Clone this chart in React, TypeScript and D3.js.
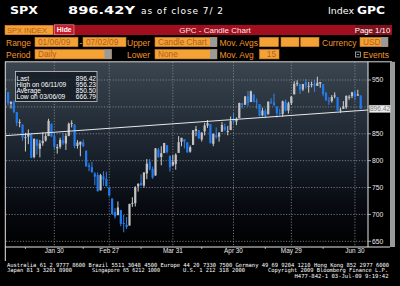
import React from 'react';
import * as d3 from 'd3';

const dates = [
  '2009-01-06','2009-01-07','2009-01-08','2009-01-09','2009-01-12','2009-01-13','2009-01-14','2009-01-15','2009-01-16','2009-01-20',
  '2009-01-21','2009-01-22','2009-01-23','2009-01-26','2009-01-27','2009-01-28','2009-01-29','2009-01-30',
  '2009-02-02','2009-02-03','2009-02-04','2009-02-05','2009-02-06','2009-02-09','2009-02-10','2009-02-11','2009-02-12','2009-02-13',
  '2009-02-17','2009-02-18','2009-02-19','2009-02-20','2009-02-23','2009-02-24','2009-02-25','2009-02-26','2009-02-27',
  '2009-03-02','2009-03-03','2009-03-04','2009-03-05','2009-03-06','2009-03-09','2009-03-10','2009-03-11','2009-03-12','2009-03-13',
  '2009-03-16','2009-03-17','2009-03-18','2009-03-19','2009-03-20','2009-03-23','2009-03-24','2009-03-25','2009-03-26','2009-03-27',
  '2009-03-30','2009-03-31',
  '2009-04-01','2009-04-02','2009-04-03','2009-04-06','2009-04-07','2009-04-08','2009-04-09','2009-04-13','2009-04-14','2009-04-15',
  '2009-04-16','2009-04-17','2009-04-20','2009-04-21','2009-04-22','2009-04-23','2009-04-24','2009-04-27','2009-04-28','2009-04-29','2009-04-30',
  '2009-05-01','2009-05-04','2009-05-05','2009-05-06','2009-05-07','2009-05-08','2009-05-11','2009-05-12','2009-05-13','2009-05-14',
  '2009-05-15','2009-05-18','2009-05-19','2009-05-20','2009-05-21','2009-05-22','2009-05-26','2009-05-27','2009-05-28','2009-05-29',
  '2009-06-01','2009-06-02','2009-06-03','2009-06-04','2009-06-05','2009-06-08','2009-06-09','2009-06-10','2009-06-11','2009-06-12',
  '2009-06-15','2009-06-16','2009-06-17','2009-06-18','2009-06-19','2009-06-22','2009-06-23','2009-06-24','2009-06-25','2009-06-26',
  '2009-06-29','2009-06-30','2009-07-01','2009-07-02'
];

const opens = [
  931.2,927.5,905.7,909.9,890.4,869.8,867.3,842.0,844.5,849.6,
  806.8,839.7,822.2,832.5,837.3,845.7,868.9,845.7,
  823.1,825.7,837.8,831.8,846.1,868.2,866.9,827.4,829.9,834.0,
  818.6,791.1,787.9,775.9,773.3,744.7,770.6,765.8,749.9,
  729.6,704.4,698.6,708.3,684.0,680.8,679.3,719.6,720.9,752.0,
  758.8,753.9,776.0,797.9,784.6,772.3,820.6,806.8,814.1,828.7,
  809.1,790.9,
  793.6,814.5,835.1,839.8,834.1,816.8,829.3,855.3,856.9,839.4,
  854.5,865.2,868.3,831.3,847.3,844.6,853.9,862.8,854.5,856.9,876.6,
  872.7,879.2,906.1,904.0,919.6,909.0,923.0,910.5,905.4,884.2,
  892.8,886.1,909.7,908.6,900.4,888.7,887.0,910.0,893.0,907.0,
  923.3,942.9,942.5,932.5,945.7,938.1,940.4,942.7,939.0,943.4,
  942.5,925.6,911.9,910.9,920.0,918.1,893.5,896.3,899.5,918.8,
  919.9,927.2,920.8,921.2
];

const highs = [
  943.9,927.5,910.0,911.9,890.4,877.0,867.3,851.6,858.1,849.6,
  841.7,839.7,838.6,852.5,850.5,877.9,868.9,851.7,
  830.8,842.6,851.9,850.6,870.8,875.0,868.1,838.2,835.5,839.4,
  818.6,796.2,797.6,778.7,777.9,775.5,780.1,779.4,751.3,
  729.6,711.7,724.1,708.3,699.1,695.3,719.6,731.9,752.6,758.3,
  774.5,778.1,803.0,803.2,788.9,823.4,823.7,826.8,833.0,828.7,
  809.1,810.5,
  813.6,845.6,842.5,839.8,834.1,828.4,856.9,864.3,856.9,852.9,
  870.4,875.6,868.3,850.1,861.8,852.9,871.8,868.8,864.5,882.1,888.7,
  880.5,907.9,907.7,920.3,929.6,930.2,923.0,915.6,905.4,898.4,
  897.0,910.0,916.4,924.6,900.4,896.7,911.8,913.8,909.5,920.0,
  947.8,949.4,942.5,942.5,951.7,946.3,946.9,949.8,956.2,946.3,
  942.5,928.0,918.4,921.9,927.1,918.1,898.7,910.9,921.4,922.0,
  928.0,930.0,931.9,921.2
];

const lows = [
  927.3,902.4,896.8,888.3,864.3,862.0,836.9,817.0,830.7,804.5,
  804.3,811.3,806.1,827.7,835.4,845.7,844.2,821.7,
  812.9,822.0,829.2,819.9,845.4,861.7,823.0,822.3,808.1,825.2,
  789.2,780.4,777.0,754.3,742.4,744.7,752.9,751.8,734.5,
  699.7,692.3,698.6,677.9,666.8,672.9,679.3,713.9,714.8,742.5,
  753.4,749.9,765.6,781.8,766.2,772.3,805.5,791.4,814.1,813.4,
  779.8,790.9,
  783.3,814.5,826.7,822.8,814.5,814.8,829.3,845.4,840.3,835.6,
  847.0,860.9,832.4,826.8,840.6,835.5,853.9,854.7,847.1,856.9,868.5,
  866.1,879.2,897.3,904.0,901.4,909.0,908.7,896.5,882.3,882.5,
  878.9,886.1,905.2,901.4,879.6,883.8,881.5,891.9,887.6,903.6,
  923.3,938.5,923.9,929.3,934.1,926.4,936.2,928.0,939.0,935.7,
  919.7,911.6,903.8,907.9,915.8,893.0,888.9,896.3,896.3,913.0,
  916.2,912.9,920.8,896.4
];

const closes = [
  934.7,906.7,909.7,890.4,870.3,871.8,842.6,843.7,850.1,805.2,
  840.2,827.5,832.0,836.6,845.7,874.1,845.1,825.9,
  825.4,838.5,832.2,845.9,868.6,869.9,827.2,833.7,835.2,826.8,
  789.2,788.4,778.9,770.1,743.3,773.1,764.9,752.8,735.1,
  700.8,696.3,712.9,682.6,683.4,676.5,719.6,721.4,750.7,756.6,
  753.9,778.1,794.4,784.0,768.5,822.9,806.1,813.9,832.9,815.9,
  787.5,797.9,
  811.1,834.4,842.5,835.5,815.6,825.2,856.6,858.7,841.5,852.1,
  865.3,869.6,832.4,850.1,843.6,851.9,866.2,857.5,855.2,873.6,872.8,
  877.5,907.2,903.8,919.5,907.4,929.2,909.2,908.4,883.9,893.1,
  882.9,909.7,908.1,903.5,888.3,887.0,910.3,893.1,906.8,919.1,
  942.9,944.7,931.8,942.5,940.1,939.1,942.4,939.2,944.9,946.2,
  923.7,912.0,910.7,918.4,921.2,893.0,895.1,900.9,920.3,918.9,
  927.2,919.3,923.3,896.4
];

const yTicks = [650, 700, 750, 800, 850, 900, 950];
const monthEndDates = ['2009-01-30','2009-02-27','2009-03-31','2009-04-30','2009-05-29','2009-06-30'];
const monthEndLabels = ['Jan 30','Feb 27','Mar 31','Apr 30','May 29','Jun 30'];
const midMonthDates = ['2009-01-15','2009-02-13','2009-03-16','2009-04-15','2009-05-15','2009-06-15'];
const lastValue = 896.42;
const infoLabels = ['Last', 'High on 06/11/09', 'Average', 'Low on 03/06/09'];
const infoValues = ['896.42', '956.23', '850.50', '666.79'];
const trendIdx = [0, 125.5];
const trendVals = [846.4, 894.2];

const footer1 = 'Australia 61 2 9777 8600 Brazil 5511 3048 4500 Europe 44 20 7330 7500 Germany 49 69 9204 1210 Hong Kong 852 2977 6000';

export default function App() {
  const plotL = 6, plotR = 368, plotT = 62, plotB = 247;
  const x = d3.scaleLinear().domain([0, dates.length - 1]).range([5.2, 360.7]);
  const y = d3.scaleLinear().domain([650, 950]).range([241.3, 80]);
  const idxOf = (d: string) => dates.indexOf(d);
  const bw = 2.2;
  const trendLine = d3.line<number>().x((_, i) => x(trendIdx[i])).y((v) => y(v));

  const orange = '#f4a236';
  const orangeText = '#f0952a';
  const boxText = '#b0601a';
  const sans = 'Liberation Sans, Arial, sans-serif';
  const mono = 'DejaVu Sans Mono, monospace';

  const inputBox = (x0: number, y0: number, w: number, h: number, text: string, grey: boolean, align: 'start' | 'end' = 'start') => (
    <g>
      <rect x={x0} y={y0} width={w} height={h} fill={orange} stroke="#c87a20" strokeWidth={0.6} />
      {grey && <rect x={x0 + w - 7} y={y0} width={7} height={h} fill="#9a9a9a" />}
      {text && (
        <text x={align === 'start' ? x0 + 3 : x0 + w - 3} y={y0 + h - 2.1} fontSize={8.3} fontFamily={sans} fill={boxText} textAnchor={align}>{text}</text>
      )}
    </g>
  );

  return (
    <div style={{ position: 'fixed', left: 0, top: 0, width: 400, height: 286, background: '#000' }}>
      <svg width={400} height={286} style={{ display: 'block' }}>
        <defs>
          <linearGradient id="bg" x1="0" y1="0" x2="0" y2="1">
            <stop offset="0" stopColor="#3a4550" />
            <stop offset="0.45" stopColor="#1c2530" />
            <stop offset="0.78" stopColor="#070a10" />
            <stop offset="1" stopColor="#000000" />
          </linearGradient>
          <clipPath id="plotClip">
            <rect x={plotL} y={plotT} width={plotR - plotL} height={plotB - plotT} />
          </clipPath>
        </defs>
        <rect x={0} y={0} width={400} height={286} fill="#000" />

        {/* Header */}
        <text x={10} y={14} fontSize={10.5} fontWeight="bold" fontFamily="DejaVu Sans, sans-serif" fill="#fff" textLength={28} lengthAdjust="spacingAndGlyphs">SPX</text>
        <text x={68} y={14} fontSize={10.5} fontWeight="bold" fontFamily="DejaVu Sans, sans-serif" fill="#fff" textLength={67} lengthAdjust="spacingAndGlyphs">896.42Y</text>
        <text x={141} y={14} fontSize={9} fontFamily="DejaVu Sans, sans-serif" fill="#fff" textLength={82} lengthAdjust="spacing">as of close 7/ 2</text>
        <text x={328} y={14} fontSize={9} fontFamily="DejaVu Sans, sans-serif" fill="#fff" textLength={26} lengthAdjust="spacingAndGlyphs">Index</text>
        <text x={357} y={14} fontSize={10} fontWeight="bold" fontFamily="DejaVu Sans, sans-serif" fill="#fff" textLength={28} lengthAdjust="spacingAndGlyphs">GPC</text>

        {/* Red bar */}
        <rect x={5} y={25} width={387} height={10} fill="#a30e1e" />
        <rect x={5} y={25.3} width={48} height={9.4} fill={orange} stroke="#c87a20" strokeWidth={0.6} />
        <text x={7} y={33} fontSize={7.5} fontFamily={sans} fill={boxText} textLength={40} lengthAdjust="spacingAndGlyphs">SPX INDEX</text>
        <rect x={54.5} y={24.8} width={19.5} height={10} fill="#c8182a" stroke="#f0a0a8" strokeWidth={0.6} />
        <text x={64.2} y={32.2} fontSize={6.8} fontWeight="bold" fontFamily={sans} fill="#fff" textAnchor="middle">Hide</text>
        <text x={215} y={33} fontSize={8} fontFamily={sans} fill="#f6e6e6" textAnchor="middle">GPC - Candle Chart</text>
        <rect x={355} y={25} width={35} height={10} fill="#80101c" />
        <text x={372.5} y={33} fontSize={7.8} fontFamily={sans} fill="#fff" textAnchor="middle">Page 1/10</text>

        {/* Row 2 */}
        <text x={6} y={45.5} fontSize={8.5} fontFamily={sans} fill={orangeText}>Range</text>
        {inputBox(35, 37.3, 43, 9.4, '01/06/09', false)}
        <text x={79.5} y={45} fontSize={8} fontFamily={sans} fill="#ddd">-</text>
        {inputBox(83, 37.3, 43, 9.4, '07/02/09', false)}
        <text x={127} y={45.5} fontSize={8.5} fontFamily={sans} fill={orangeText}>Upper</text>
        {inputBox(155, 37.3, 62, 9.4, 'Candle Chart', true)}
        <text x={219.5} y={45.5} fontSize={8.5} fontFamily={sans} fill={orangeText}>Mov. Avgs</text>
        {inputBox(259.5, 37.3, 19, 9.4, '', false)}
        {inputBox(281, 37.3, 18, 9.4, '', false)}
        {inputBox(300.7, 37.3, 18.3, 9.4, '', false)}
        <text x={322} y={45.5} fontSize={8.5} fontFamily={sans} fill={orangeText}>Currency</text>
        {inputBox(360, 37.3, 28, 9.4, 'USD', true)}

        {/* Row 3 */}
        <text x={6} y={57.5} fontSize={8.5} fontFamily={sans} fill={orangeText}>Period</text>
        {inputBox(35, 49.5, 76.5, 9.4, 'Daily', true)}
        <text x={127} y={57.5} fontSize={8.5} fontFamily={sans} fill={orangeText}>Lower</text>
        {inputBox(155, 49.5, 62, 9.4, 'None', true)}
        <text x={219.5} y={57.5} fontSize={8.5} fontFamily={sans} fill={orangeText}>Mov. Avg</text>
        {inputBox(259.5, 49.5, 19.5, 9.4, '15', false, 'end')}
        <rect x={355.5} y={52} width={5} height={5} fill="none" stroke="#ccc" strokeWidth={0.7} />
        <line x1={356.8} y1={54.5} x2={359.2} y2={54.5} stroke="#ccc" strokeWidth={0.7} />
        <text x={363} y={57.5} fontSize={8.5} fontFamily={sans} fill={orangeText}>Events</text>

        {/* Plot background */}
        <rect x={plotL} y={plotT} width={plotR - plotL} height={plotB - plotT} fill="url(#bg)" />

        {/* Grid */}
        {yTicks.map((t) => (
          <line key={'hg' + t} x1={plotL} x2={plotR} y1={y(t)} y2={y(t)} stroke="#8a9096" strokeWidth={0.8} strokeDasharray="1.2,1.6" />
        ))}
        {monthEndDates.map((d) => (
          <line key={'vg' + d} x1={x(idxOf(d))} x2={x(idxOf(d))} y1={plotT} y2={plotB} stroke="#8a9096" strokeWidth={0.8} strokeDasharray="1.2,1.6" />
        ))}

        {/* Candles */}
        <g clipPath="url(#plotClip)">
          {dates.map((d, i) => {
            const up = closes[i] >= opens[i];
            const col = up ? '#c4c4c4' : '#1f7bf2';
            const top = y(Math.max(opens[i], closes[i]));
            const bot = y(Math.min(opens[i], closes[i]));
            const cx = x(i);
            return (
              <g key={d}>
                <line x1={cx} x2={cx} y1={y(highs[i])} y2={y(lows[i])} stroke={up ? '#e0e0e0' : '#3a8cf6'} strokeWidth={0.9} />
                <rect x={cx - bw / 2} y={top} width={bw} height={Math.max(1, bot - top)} fill={col} />
              </g>
            );
          })}
          <path d={trendLine(trendVals) || ''} fill="none" stroke="#e8e8e8" strokeWidth={1} />
        </g>

        {/* Info box */}
        <rect x={15.5} y={71.5} width={81.5} height={30} fill="#141b24" fillOpacity={0.85} stroke="#c8c8c8" strokeWidth={0.8} />
        {infoLabels.map((l, i) => (
          <g key={l}>
            <text x={16.5} y={80.7 + i * 6} fontSize={6.6} fontFamily={sans} fill="#fff">{l}</text>
            <text x={96} y={80.7 + i * 6} fontSize={6.6} fontFamily={sans} fill="#fff" textAnchor="end">{infoValues[i]}</text>
          </g>
        ))}

        {/* Panel frame */}
        <line x1={5} x2={392} y1={61.8} y2={61.8} stroke="#d8d8d8" strokeWidth={1} />
        <line x1={5.3} x2={5.3} y1={61.8} y2={261} stroke="#e8e8e8" strokeWidth={1} />
        <line x1={plotR} x2={plotR} y1={61.8} y2={plotB} stroke="#e8e8e8" strokeWidth={1} />
        <line x1={5} x2={390} y1={plotB} y2={plotB} stroke="#e8e8e8" strokeWidth={1} />
        <rect x={390} y={61.8} width={5} height={plotB - 61.8} fill="#9a9a9a" />

        {/* Y axis labels (the last-value flag hides the nearby tick label) */}
        {yTicks.map((t) => (
          <g key={'yl' + t}>
            <line x1={plotR} x2={plotR + 3} y1={y(t)} y2={y(t)} stroke="#ccc" strokeWidth={0.8} />
            {Math.abs(y(t) - y(lastValue)) > 7 && (
              <text x={372} y={y(t) + 2.4} fontSize={6.8} fontFamily={sans} fill="#e8e8e8">{t}</text>
            )}
          </g>
        ))}
        <rect x={369.5} y={y(lastValue) - 3.6} width={21} height={7.2} fill="#ececec" stroke="#bbb" strokeWidth={0.5} />
        <text x={380} y={y(lastValue) + 2.3} fontSize={6.6} fontFamily={sans} fill="#777" textAnchor="middle">{lastValue.toFixed(2)}</text>

        {/* X axis */}
        {midMonthDates.map((d) => (
          <line key={'mt' + d} x1={x(idxOf(d))} x2={x(idxOf(d))} y1={plotB} y2={plotB + 2} stroke="#ccc" strokeWidth={0.8} />
        ))}
        {monthEndDates.map((d, i) => (
          <text key={'xl' + d} x={x(idxOf(d))} y={253.3} fontSize={6.4} fontFamily={sans} fill="#e8e8e8" textAnchor="middle">{monthEndLabels[i]}</text>
        ))}

        {/* Footer */}
        <text x={7} y={266.8} fontSize={5.6} fontFamily={mono} fill="#fff" textLength={382} lengthAdjust="spacingAndGlyphs">{footer1}</text>
        <text x={7} y={271.9} fontSize={5.6} fontFamily={mono} fill="#fff" textLength={65} lengthAdjust="spacingAndGlyphs">Japan 81 3 3201 8900</text>
        <text x={92} y={271.9} fontSize={5.6} fontFamily={mono} fill="#fff" textLength={68} lengthAdjust="spacingAndGlyphs">Singapore 65 6212 1000</text>
        <text x={183} y={271.9} fontSize={5.6} fontFamily={mono} fill="#fff" textLength={62} lengthAdjust="spacingAndGlyphs">U.S. 1 212 318 2000</text>
        <text x={268} y={271.9} fontSize={5.6} fontFamily={mono} fill="#fff" textLength={120} lengthAdjust="spacingAndGlyphs">Copyright 2009 Bloomberg Finance L.P.</text>
        <text x={294.5} y={277.6} fontSize={5.6} fontFamily={mono} fill="#fff" textLength={94} lengthAdjust="spacingAndGlyphs">H477-842-1 03-Jul-09  9:19:42</text>
      </svg>
    </div>
  );
}
